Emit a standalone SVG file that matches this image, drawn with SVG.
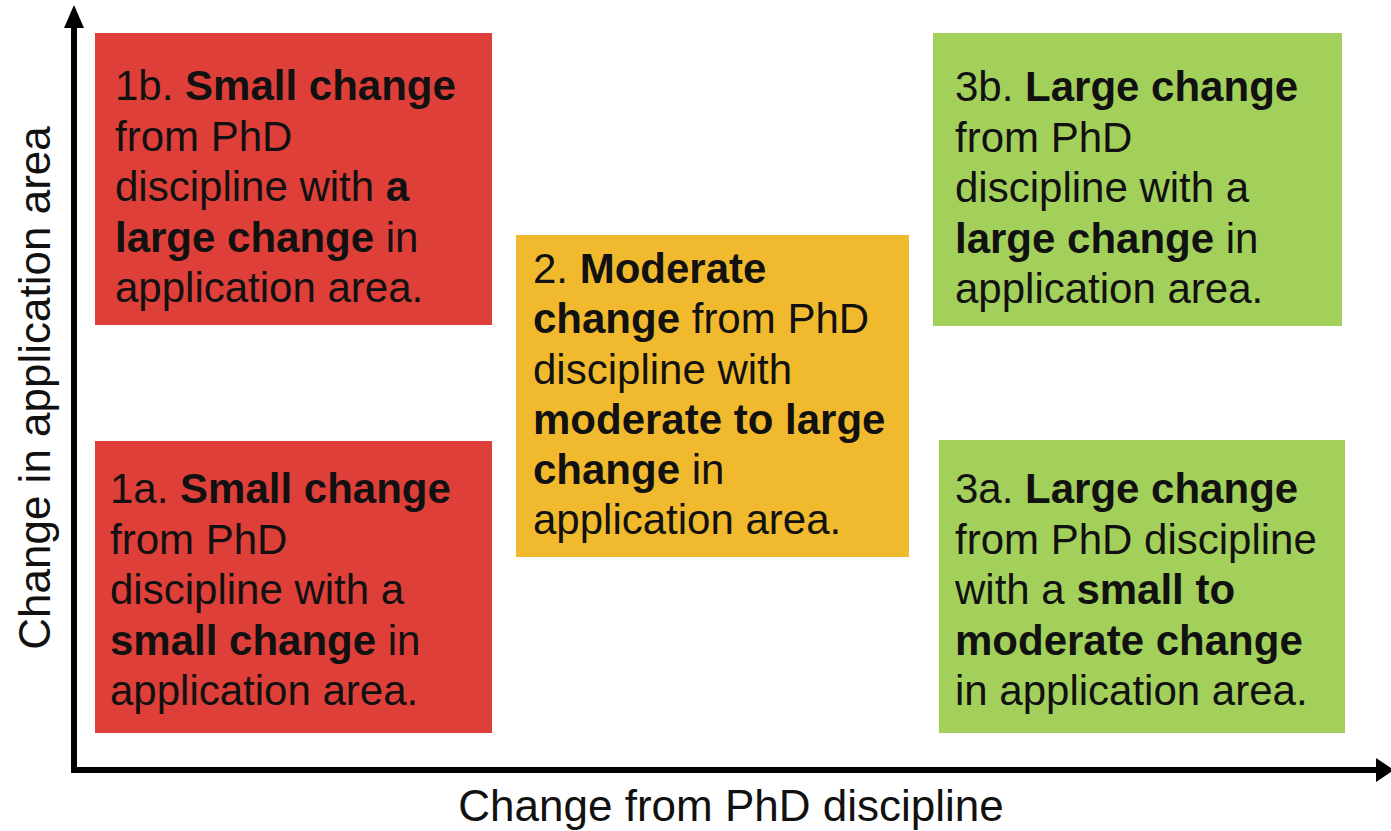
<svg xmlns="http://www.w3.org/2000/svg" width="1391" height="831" viewBox="0 0 1391 831">
<style>
  .t { font-family: "Liberation Sans", Arial, Helvetica, sans-serif; font-size: 42px; fill: #111; }
  .b { font-weight: bold; }
  .ax { font-family: "Liberation Sans", Arial, Helvetica, sans-serif; font-size: 44px; fill: #111; }
  .red { fill: #DE4039; }
  .yel { fill: #F1BA2E; }
  .grn { fill: #A3CF5B; }
  .axis { fill: none; stroke: #000; stroke-width: 6; }
  .head { fill: #000; }
</style>
<rect width="1391" height="831" fill="#fff"/>

<g id="connectors">
  <path class="axis" d="M74,770 L74,26"/>
  <path class="head" d="M74,5 L64,28 L84,28 Z"/>
  <path class="axis" d="M71,770 L1376,770"/>
  <path class="head" d="M1394,770 L1376,758 L1376,782 Z"/>
</g>

<g id="axis-y">
  <text class="ax" transform="translate(50,388) rotate(-90)" text-anchor="middle">Change in application area</text>
</g>
<g id="axis-x">
  <text class="ax" x="731" y="821" text-anchor="middle">Change from PhD discipline</text>
</g>

<g id="node-1b">
  <rect class="red" x="95" y="33" width="397" height="292"/>
  <text class="t" x="115" y="100">1b. <tspan class="b">Small change</tspan></text>
  <text class="t" x="115" y="151">from PhD</text>
  <text class="t" x="115" y="201">discipline with <tspan class="b">a</tspan></text>
  <text class="t" x="115" y="252"><tspan class="b">large change</tspan> in</text>
  <text class="t" x="115" y="302">application area.</text>
</g>

<g id="node-1a">
  <rect class="red" x="95" y="441" width="397" height="292"/>
  <text class="t" x="110" y="503">1a. <tspan class="b">Small change</tspan></text>
  <text class="t" x="110" y="554">from PhD</text>
  <text class="t" x="110" y="604">discipline with a</text>
  <text class="t" x="110" y="655"><tspan class="b">small change</tspan> in</text>
  <text class="t" x="110" y="705">application area.</text>
</g>

<g id="node-2">
  <rect class="yel" x="516" y="235" width="393" height="322"/>
  <text class="t" x="533" y="283">2. <tspan class="b">Moderate</tspan></text>
  <text class="t" x="533" y="333"><tspan class="b">change</tspan> from PhD</text>
  <text class="t" x="533" y="384">discipline with</text>
  <text class="t" x="533" y="434"><tspan class="b">moderate to large</tspan></text>
  <text class="t" x="533" y="484"><tspan class="b">change</tspan> in</text>
  <text class="t" x="533" y="534">application area.</text>
</g>

<g id="node-3b">
  <rect class="grn" x="933" y="33" width="409" height="293"/>
  <text class="t" x="955" y="101">3b. <tspan class="b">Large change</tspan></text>
  <text class="t" x="955" y="152">from PhD</text>
  <text class="t" x="955" y="202">discipline with a</text>
  <text class="t" x="955" y="253"><tspan class="b">large change</tspan> in</text>
  <text class="t" x="955" y="303">application area.</text>
</g>

<g id="node-3a">
  <rect class="grn" x="939" y="440" width="406" height="293"/>
  <text class="t" x="955" y="503">3a. <tspan class="b">Large change</tspan></text>
  <text class="t" x="955" y="554">from PhD discipline</text>
  <text class="t" x="955" y="604">with a <tspan class="b">small to</tspan></text>
  <text class="t" x="955" y="655"><tspan class="b">moderate change</tspan></text>
  <text class="t" x="955" y="705">in application area.</text>
</g>
</svg>
